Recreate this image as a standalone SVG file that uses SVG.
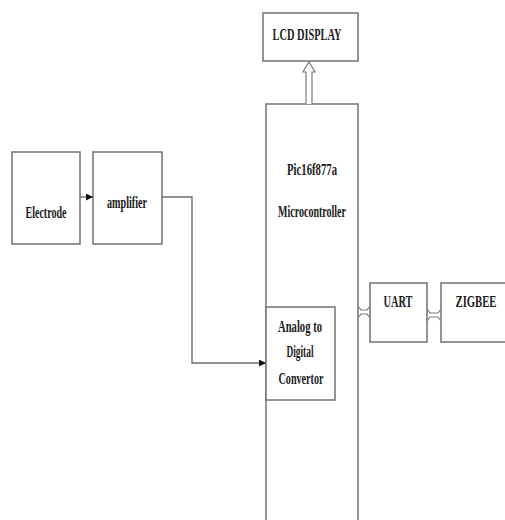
<svg xmlns="http://www.w3.org/2000/svg" width="505" height="520" viewBox="0 0 505 520">
<style>
.box{fill:#fff;stroke:#7a7a7a;stroke-width:1.6}
.ln{fill:none;stroke:#6e6e6e;stroke-width:1.4}
.hol{fill:#fff;stroke:#7a7a7a;stroke-width:1.2}
.t{font-family:"Liberation Serif",serif;font-weight:bold;font-size:17px;fill:#1a1a1a;text-anchor:middle}
</style>
<defs>
<marker id="ah" viewBox="0 0 10 10" refX="10" refY="5" markerWidth="7" markerHeight="7" markerUnits="userSpaceOnUse" orient="auto">
<path d="M0,0 L10,5 L0,10 Z" fill="#111"/>
</marker>
</defs>
<rect width="505" height="520" fill="#fff"/>
<g id="mcu"><rect class="box" x="266" y="104" width="92" height="430"/>
<text class="t" x="312" y="175" textLength="50" lengthAdjust="spacingAndGlyphs">Pic16f877a</text>
<text class="t" x="312" y="217" textLength="68" lengthAdjust="spacingAndGlyphs">Microcontroller</text></g>
<g id="lcd"><rect class="box" x="263" y="13" width="95" height="48"/>
<text class="t" x="307" y="40" textLength="69" lengthAdjust="spacingAndGlyphs">LCD DISPLAY</text></g>
<g id="electrode"><rect class="box" x="12" y="152" width="68" height="92"/>
<text class="t" x="46" y="218" textLength="41" lengthAdjust="spacingAndGlyphs">Electrode</text></g>
<g id="amplifier"><rect class="box" x="93" y="152" width="69" height="92"/>
<text class="t" x="127" y="208" textLength="40" lengthAdjust="spacingAndGlyphs">amplifier</text></g>
<g id="adc"><rect class="box" x="266" y="307" width="69" height="93"/>
<text class="t" x="300" y="332" textLength="44" lengthAdjust="spacingAndGlyphs">Analog to</text>
<text class="t" x="300" y="357" textLength="27" lengthAdjust="spacingAndGlyphs">Digital</text>
<text class="t" x="301" y="384" textLength="45" lengthAdjust="spacingAndGlyphs">Convertor</text></g>
<g id="uart"><rect class="box" x="370" y="283" width="57" height="59"/>
<text class="t" x="398" y="307" textLength="29" lengthAdjust="spacingAndGlyphs">UART</text></g>
<g id="zigbee"><rect class="box" x="441" y="283" width="70" height="59"/>
<text class="t" x="476" y="307" textLength="41" lengthAdjust="spacingAndGlyphs">ZIGBEE</text></g>
<g id="connectors">
<line class="ln" x1="80" y1="197" x2="93" y2="197" marker-end="url(#ah)"/>
<polyline class="ln" points="162,197 192,197 192,363 266,363" marker-end="url(#ah)"/>
<path class="hol" d="M306,104 V72 H303 L309,62 L315,72 H312 V104"/>
<path class="hol" d="M358,306 L361,310 H367 L370,306 M358,318 L361,314 H367 L370,318"/>
<path class="hol" d="M427,309 L430,313 H438 L441,309 M427,321 L430,317 H438 L441,321"/>
</g>
</svg>
